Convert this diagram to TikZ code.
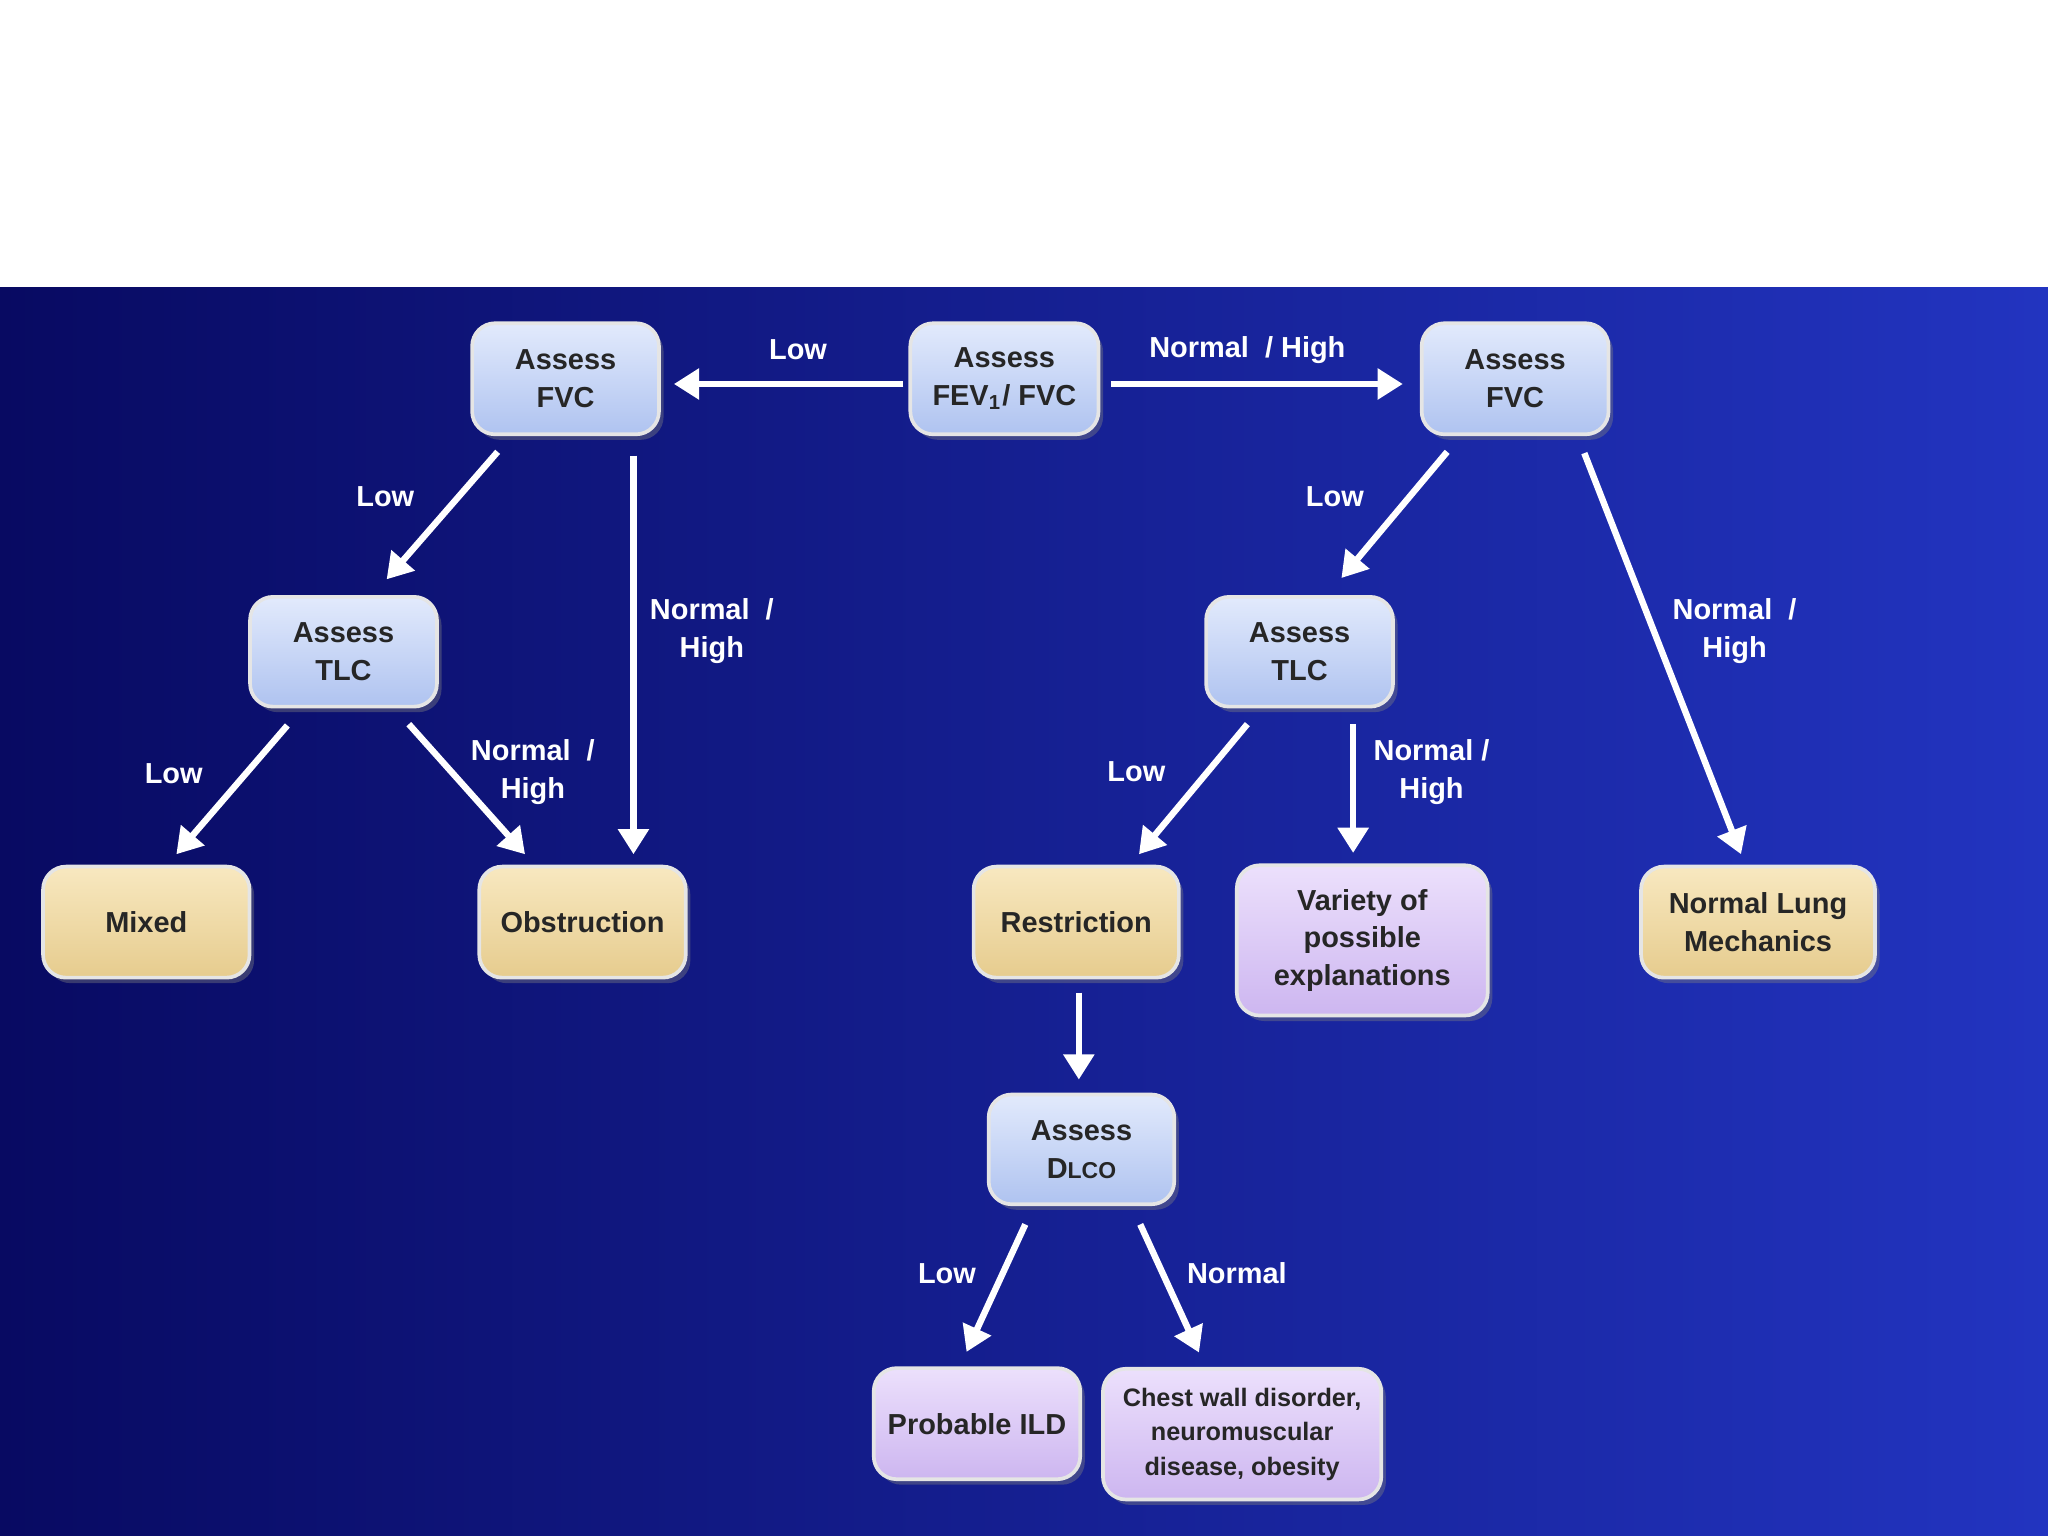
\documentclass[tikz,border=0pt]{standalone}
\usepackage{fontspec}
\setmainfont{Liberation Sans}
\usetikzlibrary{shadows,calc,arrows.meta}
\definecolor{bgL}{HTML}{080A62}
\definecolor{bgR}{HTML}{2234C0}
\definecolor{bluT}{HTML}{E2EAFC}
\definecolor{bluB}{HTML}{AFC3F0}
\definecolor{tanT}{HTML}{F8E8C0}
\definecolor{tanB}{HTML}{E6CC8E}
\definecolor{lavT}{HTML}{ECE0FC}
\definecolor{lavB}{HTML}{CDB6F0}
\begin{document}
\begin{tikzpicture}[x=0.01cm,y=-0.01cm,
 box/.style={rounded corners=5pt,draw=white!80!gray,line width=0.8pt,
   drop shadow={shadow xshift=1pt,shadow yshift=-1.2pt,opacity=0.4},
   align=center,font=\bfseries\fontsize{6.3}{8.2}\selectfont,text=black!85,inner sep=0pt},
 blu/.style={box,top color=bluT,bottom color=bluB},
 tan/.style={box,top color=tanT,bottom color=tanB},
 lav/.style={box,top color=lavT,bottom color=lavB},
 arr/.style={draw=white,line width=1.4pt,-{Triangle[length=5.5pt,width=6.5pt]}},
 lab/.style={text=white,font=\bfseries\fontsize{6.3}{8.2}\selectfont,align=center}]
\useasboundingbox (0,0) rectangle (1568,1176);
\fill[white] (0,0) rectangle (1568,220);
\shade[left color=bgL,right color=bgR] (0,220) rectangle (1568,1176);
\node[blu,minimum width=1.44cm,minimum height=0.85cm] (fev) at (769,290) {Assess\\FEV\textsubscript{1}/ FVC};
\node[blu,minimum width=1.43cm,minimum height=0.85cm] (fvcL) at (433,290) {Assess\\FVC};
\node[blu,minimum width=1.43cm,minimum height=0.85cm] (fvcR) at (1160,290) {Assess\\FVC};
\node[blu,minimum width=1.43cm,minimum height=0.84cm] (tlcL) at (263,499) {Assess\\TLC};
\node[blu,minimum width=1.43cm,minimum height=0.84cm] (tlcR) at (995,499) {Assess\\TLC};
\node[tan,minimum width=1.58cm,minimum height=0.85cm] (mixed) at (112,706) {Mixed};
\node[tan,minimum width=1.58cm,minimum height=0.85cm] (obs) at (446,706) {Obstruction};
\node[tan,minimum width=1.57cm,minimum height=0.85cm] (res) at (824,706) {Restriction};
\node[lav,minimum width=1.92cm,minimum height=1.15cm] (var) at (1043,720) {Variety of\\possible\\explanations};
\node[tan,minimum width=1.79cm,minimum height=0.85cm] (nlm) at (1346,706) {Normal Lung\\Mechanics};
\node[blu,minimum width=1.42cm,minimum height=0.84cm] (dlco) at (828,880) {Assess\\D{\fontsize{5}{7}\selectfont LCO}};
\node[lav,minimum width=1.58cm,minimum height=0.85cm] (ild) at (748,1090) {Probable ILD};
\node[lav,minimum width=2.13cm,minimum height=1.0cm,font=\bfseries\fontsize{5.5}{7.5}\selectfont] (chest) at (951,1098) {Chest wall disorder,\\neuromuscular\\disease, obesity};
% arrows
\draw[arr] ($(fev.west)+(-4,4)$) -- ($(fvcL.east)+(10,4)$);
\draw[arr] ($(fev.east)+(8,4)$) -- ($(fvcR.west)+(-13,4)$);
\draw[arr] ($(fvcL.south)+(-52,12)$) -- ($(tlcL.north)+(33,-12)$);
\draw[arr] ($(fvcL.south)+(52,15)$) -- ($(obs.north)+(39,-8)$);
\draw[arr] ($(tlcL.south)+(-43,13)$) -- ($(mixed.north)+(23,-8)$);
\draw[arr] ($(tlcL.south)+(50,12)$) -- ($(obs.north)+(-44,-8)$);
\draw[arr] ($(fvcR.south)+(-52,12)$) -- ($(tlcR.north)+(32,-13)$);
\draw[arr] ($(fvcR.south)+(53,13)$) -- ($(nlm.north)+(-13,-8)$);
\draw[arr] ($(tlcR.south)+(-40,12)$) -- ($(res.north)+(48,-8)$);
\draw[arr] ($(tlcR.south)+(41,12)$) -- ($(var.north)+(-7,-8)$);
\draw[arr] ($(res.south)+(2,10)$) -- ($(dlco.north)+(-2,-10)$);
\draw[arr] ($(dlco.south)+(-43,14)$) -- ($(ild.north)+(-8,-11)$);
\draw[arr] ($(dlco.south)+(45,14)$) -- ($(chest.north)+(-33,-11)$);
% labels
\node[lab] (l1) at (611,268) {Low};
\node[lab] (l2) at (955,268) {Normal~ / High};
\node[lab] (l3) at (295,380) {Low};
\node[lab] (l4) at (545,483) {Normal~ /\\High};
\node[lab] (l5) at (133,592) {Low};
\node[lab] (l6) at (408,591) {Normal~ /\\High};
\node[lab] (l7) at (1022,380) {Low};
\node[lab] (l8) at (1328,483) {Normal~ /\\High};
\node[lab] (l9) at (870,591) {Low};
\node[lab] (l10) at (1096,591) {Normal /\\High};
\node[lab] (l11) at (725,975) {Low};
\node[lab] (l12) at (947,975) {Normal};
\end{tikzpicture}
\end{document}
